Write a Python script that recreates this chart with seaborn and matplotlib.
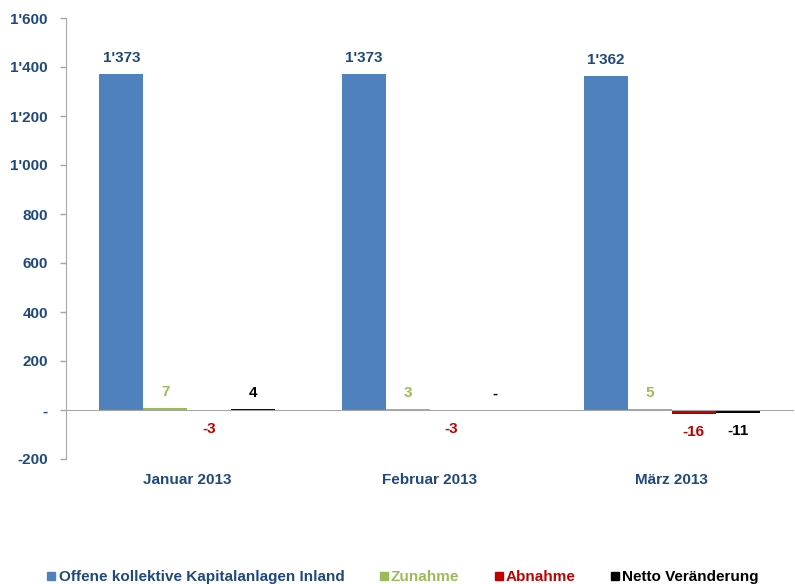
import numpy as np
import pandas as pd
import matplotlib
matplotlib.use('Agg')
import matplotlib.pyplot as plt
from matplotlib.ticker import FuncFormatter, FixedLocator
from matplotlib.lines import Line2D
import seaborn as sns

months = ['Januar 2013', 'Februar 2013', 'März 2013']
series = ['Offene kollektive Kapitalanlagen Inland', 'Zunahme', 'Abnahme', 'Netto Veränderung']
bestand = [1373, 1373, 1362]
zunahme = [7, 3, 5]
abnahme = [-3, -3, -16]
netto = [4, 0, -11]

bar_colors = ['#4F81BD', '#9BBB59', '#C00000', '#000000']
text_colors = ['#1F497D', '#9BBB59', '#C00000', '#000000']
dark_blue = '#1F497D'
grey = '#A6A6A6'

df = pd.DataFrame({
    'Monat': months * 4,
    'Serie': np.repeat(series, 3),
    'Wert': bestand + zunahme + abnahme + netto,
})

sns.set_style('white')
plt.rcParams['font.family'] = ['Liberation Sans', 'DejaVu Sans']

fig = plt.figure(figsize=(7.95, 5.84), dpi=100)
ax = fig.add_axes([66/795, 1-459/584, 1-66/795-2/795, (459-18)/584])

sns.barplot(data=df, x='Monat', y='Wert', hue='Serie', order=months, hue_order=series,
            palette=bar_colors, width=0.724, errorbar=None, legend=False, ax=ax,
            saturation=1, linewidth=0)


def fmt(v, pos=None):
    if v == 0:
        return '-'
    s = f'{abs(int(round(v))):,}'.replace(',', "'")
    return ('-' if v < 0 else '') + s


# value labels just beyond the bar end
for cont, col in zip(ax.containers, text_colors):
    for patch, v in zip(cont.patches, cont.datavalues):
        x = patch.get_x() + patch.get_width() / 2
        off = 11.5 if v >= 0 else -13
        ax.annotate(fmt(v), (x, v), xytext=(0, off), textcoords='offset points',
                    ha='center', va='center', color=col, fontsize=11, fontweight='bold')

ax.set_ylim(-200, 1600)
ax.set_xlim(-0.5, 2.5)
ax.yaxis.set_major_locator(FixedLocator(np.arange(-200, 1601, 200)))
ax.yaxis.set_major_formatter(FuncFormatter(fmt))

for s in ['top', 'right']:
    ax.spines[s].set_visible(False)
ax.spines['left'].set_color(grey)
ax.spines['bottom'].set_color(grey)
ax.spines['bottom'].set_position(('data', 0))

ax.xaxis.set_minor_locator(FixedLocator([0.5, 1.5, 2.5]))
ax.tick_params(axis='x', which='minor', length=7, direction='inout', color=grey, width=1)
ax.tick_params(axis='x', which='major', length=0, pad=45, labelsize=11,
               labelcolor=dark_blue)
ax.tick_params(axis='y', length=4, direction='out', color=grey, width=1, pad=9,
               labelsize=11, labelcolor=dark_blue, left=True)
for lab in ax.get_xticklabels() + ax.get_yticklabels():
    lab.set_fontweight('bold')
ax.set_xlabel('')
ax.set_ylabel('')

handles = [Line2D([], [], marker='s', linestyle='', markersize=6, color=c) for c in bar_colors]
leg = fig.legend(handles, series, loc='center', bbox_to_anchor=(0.507, 1-577/584), ncol=4,
                 frameon=False, handlelength=0.55, handletextpad=0.2, columnspacing=2.3,
                 borderpad=0, borderaxespad=0, prop={'weight': 'bold', 'size': 11})
for t, c in zip(leg.get_texts(), text_colors):
    t.set_color(c)

fig.savefig('out.png', dpi=100)
